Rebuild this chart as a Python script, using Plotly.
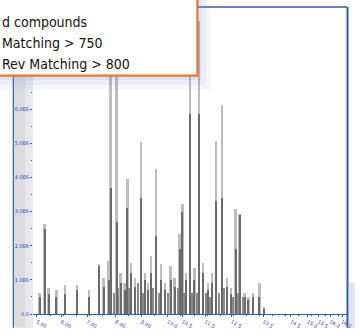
import plotly.graph_objects as go

# Retention time (min) of each detected peak
peak_time = [5.11, 5.30, 5.45, 5.75, 6.09, 6.54, 6.99, 7.37, 7.56, 7.74,
             7.82, 8.05, 8.20, 8.35, 8.46, 8.61, 8.76, 8.99, 9.14, 9.25,
             9.36, 9.55, 9.74, 9.89, 10.11, 10.26, 10.45, 10.56, 10.71, 10.86,
             11.02, 11.20, 11.35, 11.54, 11.69, 11.84, 12.07, 12.26, 12.41, 12.59,
             12.74, 12.93, 13.08, 13.27, 13.50, 13.68]
# Total ion current at the apex (x1e6 counts)
peak_tic = [0.63, 2.63, 0.77, 0.71, 0.86, 0.86, 0.71, 1.46, 1.06, 1.54,
            8.80, 8.95, 1.20, 0.91, 3.97, 1.49, 1.06, 5.03, 1.20, 0.91,
            1.69, 4.26, 1.46, 0.91, 1.40, 1.06, 2.34, 3.23, 1.20, 8.70,
            1.34, 8.60, 1.49, 0.91, 1.20, 5.06, 6.14, 1.06, 0.77, 3.09,
            2.94, 0.63, 0.49, 0.63, 0.90, 0.20]
# Extracted ion signal of the matched compound (x1e6 counts)
peak_ion = [0.50, 2.50, 0.60, 0.50, 0.60, 0.70, 0.50, 1.40, 0.80, 1.00,
            3.70, 2.70, 0.90, 0.70, 3.10, 1.20, 0.80, 3.40, 1.00, 0.70,
            1.20, 2.30, 1.00, 0.70, 1.00, 0.80, 1.90, 3.00, 1.00, 5.86,
            1.00, 5.86, 1.20, 0.70, 0.90, 3.30, 3.40, 0.80, 0.60, 1.90,
            2.90, 0.50, 0.40, 0.50, 0.50, 0.15]
# Small co-eluting peaks near the baseline
minor_time = [7.93, 8.12, 8.53, 8.87, 9.06, 9.44, 9.66, 10.00, 10.38, 10.64,
              10.94, 11.13, 11.47, 11.62, 11.96, 12.14, 12.48, 12.67, 12.86]
minor_height = [0.63, 0.77, 0.77, 0.91, 0.63, 0.77, 0.63, 0.63, 0.77, 0.63,
                0.63, 0.63, 0.63, 0.49, 0.63, 0.77, 0.49, 0.63, 0.49]

x_tick_vals = [5.0, 5.94, 6.92, 8.01, 8.99, 10.0, 10.56, 11.43, 12.44,
               13.65, 14.70, 15.34, 15.75, 16.20, 16.65]
x_tick_text = ["5.00", "6.00", "7.00", "8.00", "9.00", "10.0", "10.5", "11.5",
               "12.5", "13.5", "14.5", "15.0", "15.5", "16.0", "16.5"]
y_tick_vals = [0, 1, 2, 3, 4, 5, 6]
y_tick_text = ["0.0", "1.0E6", "2.0E6", "3.0E6", "4.0E6", "5.0E6", "6.0E6"]

legend_lines = ["d compounds", "Matching > 750", "Rev Matching > 800"]

BLUE = "#2f5ea8"
LABEL_BLUE = "#3346b8"

fig = go.Figure()
fig.add_trace(go.Bar(x=peak_time, y=peak_tic, width=0.075,
                     marker=dict(color="#bdbdbd", line=dict(width=0)),
                     name="TIC"))
fig.add_trace(go.Bar(x=minor_time, y=minor_height, width=0.05,
                     marker=dict(color="#8a8a8a", line=dict(width=0)),
                     name="Minor"))
fig.add_trace(go.Bar(x=peak_time, y=peak_ion, width=0.045,
                     marker=dict(color="#6a6a6a", line=dict(width=0)),
                     name="Ion"))

W, H = 360, 336
L, R, T, B = 33, 8, 7, 14
pw, ph = W - L - R, H - T - B


def px(xp):
    return (xp - L) / pw


def py(yp):
    return (H - B - yp) / ph


shapes = [
    # grey axis column on the left
    dict(type="rect", xref="paper", yref="paper", x0=px(13), x1=px(33),
         y0=py(336), y1=py(0), fillcolor="#dcdce0", line=dict(width=0),
         layer="below"),
    dict(type="rect", xref="paper", yref="paper", x0=px(25), x1=px(33),
         y0=py(336), y1=py(0), fillcolor="#e8e8ec", line=dict(width=0),
         layer="below"),
    dict(type="line", xref="paper", yref="paper", x0=px(13), x1=px(13),
         y0=py(336), y1=py(0), line=dict(color=BLUE, width=1.2),
         layer="below"),
    # frame: top and right edges
    dict(type="line", xref="paper", yref="paper", x0=0, x1=1,
         y0=1, y1=1, line=dict(color=BLUE, width=1.5)),
    dict(type="line", xref="paper", yref="paper", x0=px(352.5), x1=px(352.5),
         y0=py(336), y1=1, line=dict(color=BLUE, width=2)),
    dict(type="rect", xref="paper", yref="paper", x0=px(354), x1=px(360),
         y0=py(336), y1=py(290), fillcolor="rgba(150,185,225,0.35)",
         line=dict(width=0)),
    # soft shadow around the info box
    dict(type="rect", xref="paper", yref="paper", x0=px(-5), x1=px(214),
         y0=py(92), y1=py(-5), fillcolor="rgba(110,130,210,0.06)",
         line=dict(width=0), layer="above"),
    dict(type="rect", xref="paper", yref="paper", x0=px(-5), x1=px(209),
         y0=py(87), y1=py(-5), fillcolor="rgba(110,130,210,0.08)",
         line=dict(width=0), layer="above"),
    dict(type="rect", xref="paper", yref="paper", x0=px(-5), x1=px(204),
         y0=py(82), y1=py(-5), fillcolor="rgba(110,130,210,0.10)",
         line=dict(width=0), layer="above"),
    # info box
    dict(type="rect", xref="paper", yref="paper", x0=px(-5), x1=px(200),
         y0=py(77.5), y1=py(-5), fillcolor="white",
         line=dict(color="#e8782a", width=2.2), layer="above"),
]

annotations = []
for i, txt in enumerate(legend_lines):
    annotations.append(dict(
        text=txt, xref="paper", yref="paper", x=px(-1), y=py(22 + i * 21.5),
        xanchor="left", yanchor="middle", showarrow=False,
        font=dict(family="DejaVu Sans Condensed, sans-serif",
                  size=14, color="#111111")))

fig.update_layout(
    width=W, height=H,
    margin=dict(l=L, r=R, t=T, b=B),
    paper_bgcolor="white", plot_bgcolor="white",
    barmode="overlay", showlegend=False, bargap=0,
    shapes=shapes, annotations=annotations,
    xaxis=dict(range=[4.85, 16.84], tickvals=x_tick_vals, ticktext=x_tick_text,
               showgrid=False, zeroline=False, showline=True,
               linecolor=BLUE, linewidth=1.2, ticks="outside", ticklen=2,
               tickcolor=BLUE, tickfont=dict(size=5, color=LABEL_BLUE,
                                             family="DejaVu Sans"),
               minor=dict(ticks="outside", ticklen=1, tickcolor=BLUE, nticks=5)),
    yaxis=dict(range=[0, 9], tickvals=y_tick_vals, ticktext=y_tick_text,
               showgrid=False, zeroline=False, showline=False,
               ticks="outside", ticklen=2, tickcolor=BLUE,
               tickfont=dict(size=5, color=LABEL_BLUE, family="DejaVu Sans"),
               minor=dict(ticks="outside", ticklen=1, tickcolor=BLUE, nticks=5)),
)

fig.write_html("out.html")
